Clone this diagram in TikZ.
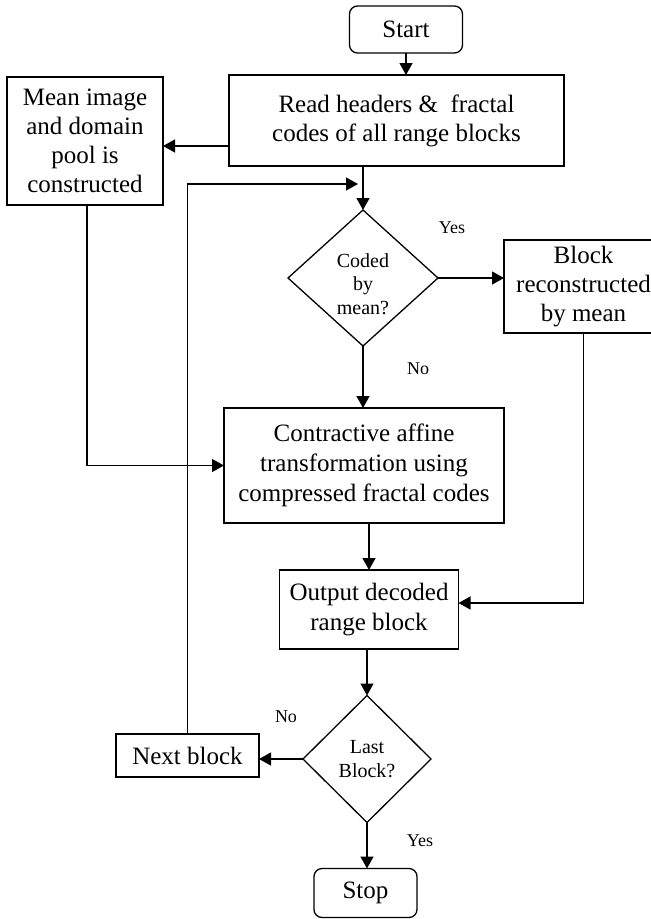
\documentclass[tikz,border=0pt]{standalone}
\usepackage{fontspec}
\setmainfont{Liberation Serif}
\usetikzlibrary{shapes.geometric,arrows.meta}
\begin{document}
\begin{tikzpicture}[x=1pt,y=-1pt,
  every node/.style={inner sep=0pt, outer sep=0pt},
  box/.style={draw, line width=1.3pt, align=center, font=\fontsize{25}{29}\selectfont},
  rbox/.style={box, rounded corners=8pt},
  dec/.style={draw, diamond, line width=1.3pt, align=center, font=\fontsize{20}{23.5}\selectfont},
  lbl/.style={font=\fontsize{18}{20}\selectfont},
  conn/.style={line width=1.3pt},
  arr/.style={conn, -{Triangle[length=12pt,width=13pt]}}
]
\useasboundingbox (0,0) rectangle (651,919);

\node[rbox, minimum width=113pt, minimum height=47pt] (start) at (406,29.5) {Start};
\node[box, minimum width=335pt, minimum height=91pt] (read) at (396.5,120.5) {Read headers \&\ \ fractal\\codes of all range blocks};
\node[box, minimum width=156pt, minimum height=128pt] (mean) at (85,141) {Mean image\\and domain\\pool is\\constructed};
\node[dec, minimum width=150pt, minimum height=136pt] (coded) at (363,278) {};
\node[font=\fontsize{20}{23.5}\selectfont, align=center] (codedtxt) at (363,284) {Coded\\by\\mean?};
\node[box, minimum width=159pt, minimum height=93pt] (block) at (583.5,286.5) {Block\\reconstructed\\by mean};
\node[box, minimum width=280pt, minimum height=115pt, font=\fontsize{25}{30}\selectfont] (contr) at (364,465.5) {Contractive affine\\transformation using\\compressed fractal codes};
\node[box, minimum width=179pt, minimum height=79pt, font=\fontsize{25}{30}\selectfont] (output) at (369,609.5) {Output decoded\\range block};
\node[dec, minimum width=128pt, minimum height=127pt] (last) at (367,759) {Last\\Block?};
\node[box, minimum width=143pt, minimum height=43pt] (next) at (187.5,755.5) {Next block};
\node[rbox, minimum width=103pt, minimum height=49pt] (stop) at (365.5,893) {Stop};

\coordinate (fb) at (363,184);

\draw[arr] (start.south) -- (start.south |- read.north);
\draw[arr] (read.west |- 0,146) -- (mean.east |- 0,146);
\draw[arr] (coded.north |- read.south) -- (coded.north);
\draw[arr, shorten >=5pt] (next.north) |- (fb);
\draw[arr] (coded.east) -- (block.west |- coded.east);
\draw[arr] (coded.south) -- (coded.south |- contr.north);
\draw[arr] ([xshift=2pt]mean.south) |- (contr.west);
\draw[arr] (output.north |- contr.south) -- (output.north);
\draw[arr] (block.south) |- (output.east |- 0,603);
\draw[arr] (last.north |- output.south) -- (last.north);
\draw[arr] (last.west) -- (next.east |- last.west);
\draw[arr] (last.south) -- (last.south |- stop.north);

\node[lbl] (yes1) at (452,228) {Yes};
\node[lbl] (no1) at (418,369) {No};
\node[lbl] (no2) at (286,717) {No};
\node[lbl] (yes2) at (420,841) {Yes};
\end{tikzpicture}
\end{document}
